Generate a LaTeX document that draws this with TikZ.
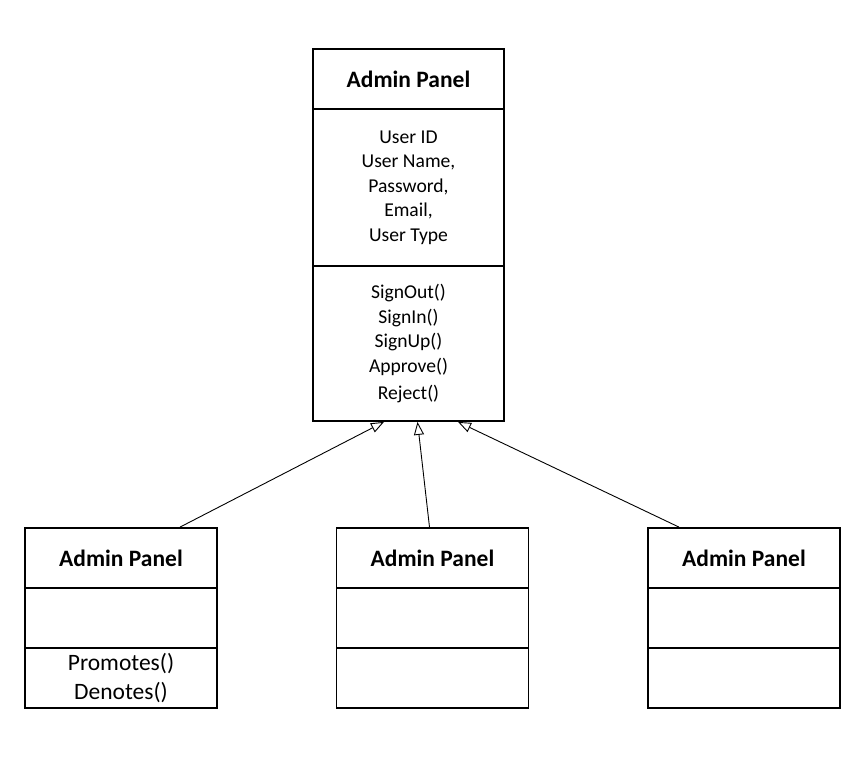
\documentclass[tikz,border=0pt]{standalone}
\usepackage{fontspec}
\setmainfont{Carlito}
\usetikzlibrary{arrows.meta}
\begin{document}
\begin{tikzpicture}[x=1pt,y=-1pt,
  part/.style={draw=black, line width=1.8pt, rectangle, inner sep=0pt, align=center, anchor=center},
  topw/.style={part, minimum width=191pt},
  botw/.style={part, minimum width=192pt},
  ttl/.style={font=\fontsize{23.5}{28}\selectfont\bfseries},
  small/.style={font=\fontsize{19.6}{24.4}\selectfont},
  big/.style={font=\fontsize{23.5}{28.5}\selectfont},
  inh/.style={draw=black, line width=0.9pt, -{Triangle[open, length=13pt, width=10pt, line width=0.9pt]}}
]
\useasboundingbox (0,0) rectangle (865,769);
\fill[white] (0,0) rectangle (865,769);

% top class
\node[topw, ttl, minimum height=60pt] (t1) at (408.5,79) {Admin Panel};
\node[topw, small, minimum height=157pt] (a1) at (408.5,187.5) {User ID\\User Name,\\Password,\\Email,\\User Type};
\node[topw, small, minimum height=155pt] (m1) at (408.5,343.5) {SignOut()\\SignIn()\\SignUp()\\Approve()\\[2.5pt]Reject()};

% left class
\node[botw, ttl, minimum height=60pt] (t2) at (121,558) {Admin Panel};
\node[botw, minimum height=60pt] (a2) at (121,618) {};
\node[botw, big, minimum height=60pt] (m2) at (121,678) {Promotes()\\Denotes()};

% middle class
\node[botw, ttl, minimum height=60pt] (t3) at (432.5,558) {Admin Panel};
\node[botw, minimum height=60pt] (a3) at (432.5,618) {};
\node[botw, minimum height=60pt] (m3) at (432.5,678) {};

% right class
\node[botw, ttl, minimum height=60pt] (t4) at (744,558) {Admin Panel};
\node[botw, minimum height=60pt] (a4) at (744,618) {};
\node[botw, minimum height=60pt] (m4) at (744,678) {};

% generalisation connectors
\draw[inh] ([xshift=59pt]t2.north) -- ([xshift=-24.5pt]m1.south);
\draw[inh] ([xshift=-3pt]t3.north) -- ([xshift=9pt]m1.south);
\draw[inh] ([xshift=-65pt]t4.north) -- ([xshift=49.5pt]m1.south);
\end{tikzpicture}
\end{document}
